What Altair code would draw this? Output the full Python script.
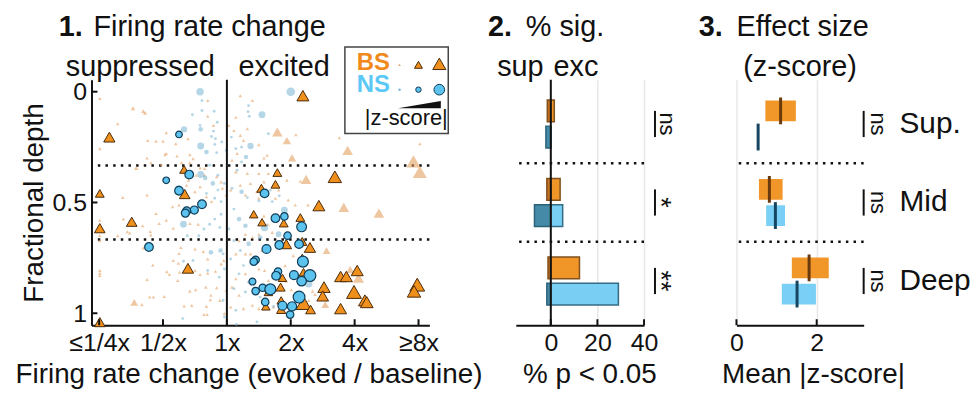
import altair as alt
import pandas as pd

FONT = "Liberation Sans"

# ---------------- Panel 1 data: (log2 evoked/baseline, fractional depth, |z-score|) ----------------
bs_nonsig = [
    (-1.99, 0.030, 1), (-1.47, 0.075, 1.3), (-1.31, 0.088, 1.2), (-1.28, 0.096, 1.2), (-1.71, 0.145, 1),
    (-1.99, 0.257, 1), (-1.24, 0.220, 1), (-1.11, 0.223, 1), (-1.00, 0.223, 1), (-0.95, 0.185, 1),
    (-0.61, 0.212, 1), (-0.80, 0.235, 1), (-0.97, 0.284, 1), (-0.95, 0.279, 1), (-0.78, 0.290, 1),
    (-0.58, 0.284, 1), (-0.53, 0.302, 1), (-1.25, 0.299, 1), (-1.19, 0.321, 1), (-1.03, 0.329, 1),
    (-1.42, 0.344, 1.3), (-0.71, 0.320, 1), (-0.58, 0.320, 1), (-0.42, 0.344, 1), (-0.48, 0.377, 1),
    (-0.35, 0.347, 1), (-0.30, 0.040, 1), (-0.30, 0.111, 1), (-0.21, 0.152, 1), (-0.60, 0.399, 1),
    (-0.63, 0.422, 1), (-0.42, 0.429, 1), (-0.50, 0.452, 1), (-1.25, 0.466, 1), (-1.63, 0.477, 1),
    (-0.32, 0.474, 1), (-0.24, 0.496, 1), (-0.35, 0.377, 1), (-0.16, 0.384, 1), (-0.09, 0.407, 1),
    (-0.07, 0.436, 1), (-0.01, 0.466, 1),
    (0.21, 0.018, 1), (0.40, 0.040, 1), (0.14, 0.115, 1), (0.03, 0.152, 1), (0.11, 0.175, 1),
    (0.21, 0.197, 1), (0.32, 0.167, 1), (0.26, 0.220, 1), (0.16, 0.279, 1), (0.08, 0.309, 1),
    (0.50, 0.239, 1), (0.63, 0.287, 1), (0.58, 0.299, 1), (1.08, 0.194, 1), (1.76, 0.208, 1),
    (3.02, 0.235, 1), (0.14, 0.362, 1), (0.32, 0.369, 1), (0.50, 0.369, 1), (0.65, 0.369, 1),
    (0.94, 0.399, 1), (1.15, 0.404, 1), (0.21, 0.422, 1), (0.37, 0.414, 1), (0.47, 0.452, 1),
    (0.58, 0.407, 1), (0.81, 0.444, 1), (0.06, 0.444, 1), (0.29, 0.466, 1), (0.50, 0.481, 1),
    (0.76, 0.481, 1), (0.96, 0.489, 1),
    (-0.85, 0.519, 1), (-0.75, 0.511, 1), (-1.11, 0.550, 1), (-0.95, 0.580, 1), (-1.06, 0.595, 1),
    (-1.32, 0.605, 1), (-1.62, 0.575, 1), (-1.99, 0.580, 1), (-1.56, 0.632, 1), (-1.52, 0.638, 1),
    (-1.20, 0.631, 1), (-1.19, 0.647, 1), (-0.84, 0.616, 1), (-0.58, 0.595, 1), (-0.45, 0.598, 1),
    (-1.99, 0.649, 1), (-1.71, 0.650, 1), (-1.99, 0.673, 1), (-1.31, 0.705, 1), (-0.72, 0.703, 1),
    (-0.75, 0.730, 1), (-0.50, 0.710, 1), (-0.37, 0.721, 1), (-0.84, 0.762, 1), (-0.76, 0.774, 1),
    (-1.16, 0.782, 1), (-0.94, 0.812, 1), (-0.90, 0.825, 1), (-0.74, 0.815, 1), (-0.68, 0.812, 1),
    (-0.50, 0.807, 1), (-0.42, 0.825, 1), (-0.30, 0.819, 1), (-0.18, 0.810, 1), (-1.99, 0.807, 1),
    (-1.99, 0.819, 1), (-1.99, 0.830, 1), (-1.25, 0.848, 1), (-0.77, 0.852, 1), (-0.58, 0.900, 1),
    (-0.49, 0.894, 1), (-0.33, 0.882, 1), (-0.16, 0.885, 1), (-1.21, 0.927, 1), (-1.15, 0.927, 1),
    (-0.98, 0.924, 1), (-1.33, 0.961, 1), (-0.67, 0.967, 1), (-0.55, 0.965, 1), (-0.32, 0.969, 1),
    (-0.26, 0.939, 1), (-0.11, 0.942, 1), (-0.36, 1.006, 1), (-0.31, 1.006, 1), (-0.04, 1.001, 1),
    (-0.25, 0.919, 1), (-0.01, 0.897, 1), (-0.30, 0.755, 1), (-0.09, 0.777, 1), (-0.05, 0.762, 1),
    (1.07, 0.511, 1), (1.27, 0.511, 1), (0.58, 0.561, 1), (0.64, 0.598, 1), (0.71, 0.635, 1),
    (0.50, 0.643, 1), (0.40, 0.658, 1), (0.29, 0.643, 1), (0.19, 0.673, 1), (0.14, 0.732, 1),
    (0.29, 0.732, 1), (0.37, 0.732, 1), (0.55, 0.717, 1), (0.65, 0.703, 1), (1.04, 0.740, 1),
    (0.91, 0.785, 1), (0.59, 0.807, 1), (0.50, 0.800, 1), (0.29, 0.822, 1), (0.14, 0.844, 1),
    (0.65, 0.852, 1), (0.93, 0.855, 1), (1.01, 0.894, 1), (1.34, 0.900, 1), (1.38, 0.915, 1),
    (1.28, 0.942, 1), (0.55, 0.942, 1), (0.40, 0.964, 1), (0.26, 0.979, 1), (0.06, 0.972, 1),
    (1.07, 0.964, 1), (0.50, 0.979, 1), (0.19, 0.919, 1), (0.08, 0.882, 1), (0.73, 0.972, 1),
    (2.92, 0.314, 4.0), (3.02, 0.362, 4.0), (1.89, 0.265, 3.0), (1.24, 0.396, 3.0), (0.79, 0.182, 3.0),
    (1.02, 0.299, 2.4), (1.83, 0.522, 3.0), (2.38, 0.548, 3.0), (1.56, 0.717, 2.2), (2.06, 0.840, 3.2),
    (1.93, 0.803, 2.4), (1.54, 0.961, 2.2), (0.94, 0.221, 2.4), (-1.45, 0.951, 2.2),
]

ns_nonsig = [
    (-0.42, 0.000, 2.6), (-0.39, 0.040, 1), (-0.39, 0.085, 1), (-0.54, 0.104, 1), (-0.20, 0.088, 1),
    (-0.15, 0.138, 1), (-0.42, 0.152, 1), (-0.41, 0.170, 1.6), (-0.21, 0.178, 1), (-0.24, 0.202, 1),
    (-0.18, 0.212, 1), (-0.67, 0.170, 2.2), (-0.41, 0.245, 2.4), (-0.19, 0.238, 1), (-0.32, 0.272, 1.6),
    (-0.16, 0.275, 1), (-0.08, 0.227, 1), (-0.01, 0.265, 1), (-0.41, 0.374, 2.4), (-0.34, 0.389, 1.6),
    (-0.27, 0.332, 1), (-0.14, 0.377, 1), (-0.22, 0.414, 1.6), (-0.14, 0.444, 1), (-0.04, 0.414, 1),
    (-0.32, 0.459, 1), (-0.19, 0.481, 1), (-0.09, 0.496, 1), (-0.76, 0.436, 2.2),
    (0.34, 0.063, 1), (0.33, 0.090, 1), (0.35, 0.111, 1), (0.07, 0.205, 1), (0.23, 0.250, 1),
    (0.37, 0.245, 2.2), (0.14, 0.257, 1), (0.30, 0.295, 1.6), (0.23, 0.317, 1), (0.16, 0.354, 1),
    (0.65, 0.190, 1), (0.08, 0.436, 1), (0.23, 0.452, 1.6), (0.32, 0.478, 1), (0.68, 0.444, 1),
    (0.82, 0.470, 1), (0.50, 0.493, 1), (0.71, 0.496, 1), (0.55, 0.104, 2.4), (1.00, 0.000, 3.0),
    (-0.68, 0.598, 2.4), (-0.62, 0.650, 1), (-0.44, 0.650, 1), (-0.53, 0.762, 1), (-0.68, 0.765, 1),
    (-0.30, 0.807, 1), (-0.25, 0.725, 1.6), (-0.10, 0.717, 1.6), (-0.06, 0.732, 1), (-0.04, 0.800, 1),
    (-0.12, 0.837, 1), (-0.06, 0.942, 1), (-0.04, 1.017, 1), (-0.69, 1.024, 1), (-0.27, 0.598, 1),
    (-0.19, 0.575, 1), (-0.09, 0.553, 1), (-0.11, 0.613, 1), (-0.36, 0.620, 1),
    (0.11, 0.530, 1), (0.19, 0.575, 1.6), (0.03, 0.620, 1), (0.29, 0.605, 1.6), (0.11, 0.673, 1),
    (0.34, 0.687, 1.6), (0.52, 0.658, 1.6), (0.21, 0.717, 1), (0.06, 0.755, 1), (0.26, 0.785, 1),
    (0.19, 0.822, 1), (0.34, 0.860, 1), (0.11, 0.889, 1), (0.29, 0.904, 1), (0.52, 0.927, 1),
    (0.14, 0.987, 1), (0.47, 1.039, 1), (0.15, 1.051, 1), (0.73, 0.969, 1), (0.90, 0.535, 2.4),
    (0.81, 0.643, 2.0), (0.59, 0.613, 2.6), (1.28, 0.867, 2.6),
]

bs_sig = [
    (-1.84, 0.205, 3.2), (-1.99, 0.459, 2.5), (-0.67, 0.351, 2.5), (-0.66, 0.462, 3.0), (-1.49, 0.587, 3.0),
    (-1.99, 0.616, 3.0), (-0.61, 0.797, 3.2), (-1.99, 1.040, 3.0), (1.19, 0.018, 3.4), (1.69, 0.384, 3.8),
    (0.79, 0.365, 2.5), (0.76, 0.418, 2.5), (0.54, 0.436, 2.6), (1.44, 0.514, 3.4), (1.15, 0.568, 2.5),
    (0.89, 0.593, 2.5), (0.55, 0.589, 2.4), (0.42, 0.553, 2.4), (0.93, 0.688, 3.0), (1.18, 0.676, 2.6),
    (1.30, 0.703, 3.2), (1.18, 0.750, 2.4), (1.20, 0.815, 2.5), (0.87, 0.840, 2.4), (0.84, 0.882, 2.6),
    (0.65, 0.904, 2.4), (1.52, 0.882, 3.5), (1.50, 0.922, 3.3), (1.78, 0.834, 3.4), (1.87, 0.834, 3.4),
    (2.04, 0.807, 3.4), (1.99, 0.904, 4.2), (2.16, 0.942, 3.6), (2.19, 0.950, 3.6), (2.98, 0.871, 4.2),
    (2.93, 0.901, 3.8), (1.78, 0.979, 3.4), (1.20, 0.954, 4.2), (1.31, 0.983, 2.8), (0.85, 0.983, 2.6),
    (0.85, 0.942, 2.4), (0.61, 0.969, 2.4),
]

ns_sig = [
    (-0.75, 0.193, 2.3), (-0.59, 0.374, 3.0), (-0.95, 0.400, 2.3), (-0.75, 0.447, 3.0), (-0.39, 0.508, 3.0),
    (-0.51, 0.534, 2.8), (-0.63, 0.538, 2.8), (-0.65, 0.548, 2.8), (-1.22, 0.701, 3.0), (0.59, 0.459, 3.0),
    (0.76, 0.571, 3.0), (0.90, 0.563, 2.6), (1.17, 0.610, 3.4), (0.95, 0.650, 2.6), (0.82, 0.692, 3.0),
    (0.62, 0.710, 3.1), (1.13, 0.688, 3.0), (1.19, 0.767, 3.8), (0.45, 0.759, 2.6), (0.42, 0.767, 2.6),
    (0.80, 0.812, 2.6), (0.77, 0.831, 3.0), (1.05, 0.828, 3.1), (1.30, 0.830, 4.1), (1.17, 0.855, 3.3),
    (0.40, 0.857, 2.4), (0.56, 0.885, 2.6), (0.68, 0.892, 3.8), (0.45, 0.900, 2.6), (1.13, 0.927, 4.1),
    (1.02, 0.969, 3.2), (0.87, 0.966, 3.1), (0.99, 1.006, 2.6), (0.60, 0.949, 2.6),
]

x_ticks = [-2, -1, 0, 1, 2, 3]
x_tick_labels = ["≤1/4x", "1/2x", "1x", "2x", "4x", "≥8x"]
depth_ticks = [0, 0.5, 1]
layer_bounds = [1 / 3, 2 / 3]

# ---------------- Panel 2 / 3 data ----------------
groups = ["Sup.", "Mid", "Deep"]
bs_sup_pct = [-1.5, -1.7, -1.2]
bs_exc_pct = [1.5, 4.0, 12.3]
ns_sup_pct = [-2.1, -7.0, -1.7]
ns_exc_pct = [0.0, 5.1, 29.0]
sig_pct = ["ns", "*", "**"]

bs_z_lo = [0.72, 0.56, 1.38]
bs_z_hi = [1.48, 1.15, 2.30]
bs_z_mean = [1.10, 0.82, 1.81]
ns_z_lo = [0.54, 0.74, 1.13]
ns_z_hi = [0.54, 1.21, 1.98]
ns_z_mean = [0.54, 0.97, 1.51]
sig_z = ["ns", "ns", "ns"]

pct_ticks = [0, 20, 40]
z_ticks = [0, 2]

# ---------------- layout ----------------
W1, W2, W3, H = 340, 129, 128, 247
BLACK = "#111111"
BS_C, NS_C = "#f0901c", "#5cc2ee"
TITLE_Y = 58
LAB_PAD = 25

def txt(s, x, y, size=28, weight="normal", align="left", color=BLACK, angle=0, baseline="alphabetic"):
    return alt.Chart(pd.DataFrame({"t": [s]})).mark_text(
        font=FONT, fontSize=size, fontWeight=weight, align=align, baseline=baseline,
        color=color, angle=angle
    ).encode(text="t:N", x=alt.value(x), y=alt.value(y))

# ---- Panel 1 ----
sx1 = alt.Scale(domain=[-2.12, 3.17], nice=False, zero=False)
sy1 = alt.Scale(domain=[-0.054, 1.054], reverse=True, nice=False, zero=False)
lab_arr = "[" + ",".join("'" + l + "'" for l in x_tick_labels) + "]"
ax_x1 = alt.Axis(values=x_ticks, labelExpr=lab_arr + "[datum.value + 2]",
                 title="Firing rate change (evoked / baseline)", titleX=158, titleY=TITLE_Y,
                 titleBaseline="alphabetic", labelBaseline="alphabetic", labelPadding=LAB_PAD,
                 labelFlush=False)
ax_y1 = alt.Axis(values=depth_ticks, format="~g", title="Fractional depth",
                 labelPadding=5, titlePadding=4, labelFlush=False)
X1 = alt.X("lx:Q", scale=sx1, axis=ax_x1)
Y1 = alt.Y("depth:Q", scale=sy1, axis=ax_y1)

def pts(lst):
    return pd.DataFrame(lst, columns=["lx", "depth", "z"])

tri_size = alt.Scale(type="pow", exponent=2, domain=[0, 4.5], range=[0, 256])
cir_size = alt.Scale(type="pow", exponent=2, domain=[0, 4.5], range=[0, 170])

p1_layers = [
    alt.Chart(pd.DataFrame({"depth": layer_bounds})).mark_rule(
        color=BLACK, strokeWidth=2.5, strokeDash=[2.5, 5.2]).encode(y=Y1),
    alt.Chart(pts(bs_nonsig)).mark_point(shape="triangle-up", filled=True, color="#e3a262", opacity=0.6)
        .encode(x=X1, y=Y1, size=alt.Size("z:Q", scale=tri_size, legend=None)),
    alt.Chart(pts(ns_nonsig)).mark_point(shape="circle", filled=True, color="#78b4d3", opacity=0.55)
        .encode(x=X1, y=Y1, size=alt.Size("z:Q", scale=cir_size, legend=None)),
    alt.Chart(pts(bs_sig)).mark_point(shape="triangle-up", filled=True, fill=BS_C, stroke="#4a2a0a",
                                      strokeWidth=1, opacity=1)
        .encode(x=X1, y=Y1, size=alt.Size("z:Q", scale=tri_size, legend=None)),
    alt.Chart(pts(ns_sig)).mark_point(shape="circle", filled=True, fill=NS_C, stroke="#0f3b55",
                                      strokeWidth=1.2, opacity=1)
        .encode(x=X1, y=Y1, size=alt.Size("z:Q", scale=cir_size, legend=None)),
    alt.Chart(pd.DataFrame({"lx": [0]})).mark_rule(color=BLACK, strokeWidth=2).encode(x=X1),
    alt.Chart(pd.DataFrame({"lx": x_ticks})).mark_rule(color=BLACK, strokeWidth=2)
        .encode(x=X1, y=alt.value(H - 6), y2=alt.value(H)),
    alt.Chart(pd.DataFrame({"depth": depth_ticks})).mark_rule(color=BLACK, strokeWidth=2)
        .encode(y=Y1, x=alt.value(0), x2=alt.value(6)),
    # legend box
    alt.Chart(pd.DataFrame({"k": [0]})).mark_rect(fill="white", stroke="#444444", strokeWidth=1.5)
        .encode(x=alt.value(255), x2=alt.value(359), y=alt.value(-33), y2=alt.value(54)),
    txt("BS", 267, -10, size=24, weight="bold", color="#f08a1c"),
    txt("NS", 267, 12, size=24, weight="bold", color="#5bc8f5"),
    txt("|z-score|", 275, 46, size=22),
    txt("1.", -33, -44, size=29, weight="bold"),
    txt("Firing rate change", 2, -44, size=29),
    txt("suppressed", 124, -4, size=29, align="right"),
    txt("excited", 148, -4, size=29),
]
leg_syms = [
    (310, -15, 6, "triangle-up", "#e3a262", None),
    (329, -15, 64, "triangle-up", BS_C, "#4a2a0a"),
    (350, -16, 175, "triangle-up", BS_C, "#4a2a0a"),
    (310, 10, 6, "circle", "#78b4d3", None),
    (329, 10, 30, "circle", NS_C, "#0f3b55"),
    (350, 10, 115, "circle", NS_C, "#0f3b55"),
]
for (lx, ly, sz, shp, fc, sc) in leg_syms:
    kw = dict(shape=shp, filled=True, fill=fc, opacity=1)
    if sc:
        kw.update(stroke=sc, strokeWidth=1)
    p1_layers.append(alt.Chart(pd.DataFrame({"k": [0]})).mark_point(**kw)
                     .encode(x=alt.value(lx), y=alt.value(ly), size=alt.value(sz)))
p1_layers.append(alt.Chart(pd.DataFrame({"k": [0]})).mark_point(
    shape="M-1,0.17L1,-0.17L1,0.17Z", filled=True, color=BLACK, opacity=1)
    .encode(x=alt.value(330), y=alt.value(25), size=alt.value(1849)))

p1 = alt.layer(*p1_layers).resolve_scale(size="independent").properties(width=W1, height=H)

# ---- shared row layout for panels 2 & 3 ----
bs_rows = [3 * i for i in range(len(groups))]
ns_rows = [3 * i + 1 for i in range(len(groups))]
sy_row = alt.Scale(domain=[-1, 8], reverse=True, nice=False, zero=False)
YR = alt.Y("row:Q", scale=sy_row, axis=None)
mid_rows = [r + 0.5 for r in bs_rows]

def sig_text(labels, x, size):
    return alt.Chart(pd.DataFrame({"row": mid_rows, "s": labels})).mark_text(
        font=FONT, fontSize=size, angle=90, align="center", baseline="alphabetic", color=BLACK
    ).encode(x=alt.value(x), y=YR, text="s:N")

# ---- Panel 2 ----
sx2 = alt.Scale(domain=[-15, 40], nice=False, zero=False)
ax_x2 = alt.Axis(values=pct_ticks, grid=True, gridColor="#e8e8e8", gridWidth=1.5, title="% p < 0.05",
                 titleX=74, titleY=TITLE_Y, titleBaseline="alphabetic", labelBaseline="alphabetic",
                 labelPadding=LAB_PAD, labelFlush=False)
X2 = alt.X("pct:Q", scale=sx2, axis=ax_x2)

def bars2(rows, vals, fill, stroke):
    df = pd.DataFrame({"row": rows, "pct": vals, "pct2": [0] * len(vals)})
    return alt.Chart(df).mark_bar(orient="horizontal", size=22, fill=fill, stroke=stroke,
                                  strokeWidth=1.5, opacity=0.95).encode(x=X2, x2="pct2:Q", y=YR)

ns_labels2 = [s if s == "ns" else "" for s in sig_pct]
star_labels2 = [s if s != "ns" else "" for s in sig_pct]

p2_layers = [
    alt.Chart(pd.DataFrame({"row": [2, 5]})).mark_rule(color=BLACK, strokeWidth=2.5,
                                                       strokeDash=[2.5, 5.2]).encode(y=YR),
    bars2(bs_rows, bs_sup_pct, "#c46c18", "#7a4712"),
    bars2(bs_rows, bs_exc_pct, BS_C, "#7a4712"),
    bars2(ns_rows, ns_sup_pct, "#3c84a3", "#1f5a73"),
    bars2(ns_rows, ns_exc_pct, "#72ccf4", "#2a6580"),
    alt.Chart(pd.DataFrame({"pct": [0]})).mark_rule(color=BLACK, strokeWidth=2).encode(x=X2),
    alt.Chart(pd.DataFrame({"pct": pct_ticks})).mark_rule(color=BLACK, strokeWidth=2)
        .encode(x=X2, y=alt.value(H - 6), y2=alt.value(H)),
    alt.Chart(pd.DataFrame({"row": bs_rows, "row2": ns_rows})).mark_rule(color=BLACK, strokeWidth=2)
        .encode(x=alt.value(W2 + 11), y=YR, y2="row2:Q"),
    sig_text(ns_labels2, W2 + 16, 22),
    sig_text(star_labels2, W2 + 8, 27),
    txt("2.", -28, -44, size=29, weight="bold"),
    txt("% sig.", 10, -44, size=29),
    txt("sup", 28, -4, size=29, align="right"),
    txt("exc", 38, -4, size=29),
]
p2 = alt.layer(*p2_layers).properties(width=W2, height=H)

# ---- Panel 3 ----
sx3 = alt.Scale(domain=[0, 3.17], nice=False, zero=False)
ax_x3 = alt.Axis(values=z_ticks, grid=True, gridColor="#e8e8e8", gridWidth=1.5, title="Mean |z-score|",
                 titleX=77, titleY=TITLE_Y, titleBaseline="alphabetic", labelBaseline="alphabetic",
                 labelPadding=LAB_PAD, labelFlush=False)
X3 = alt.X("zv:Q", scale=sx3, axis=ax_x3)

def box3(rows, lo, hi, fill):
    df = pd.DataFrame({"row": rows, "zv": lo, "zv2": hi})
    return alt.Chart(df).mark_bar(orient="horizontal", size=21, fill=fill, opacity=0.95).encode(
        x=X3, x2="zv2:Q", y=YR)

def med3(rows, vals, color):
    df = pd.DataFrame({"row": rows, "zv": vals})
    return alt.Chart(df).mark_tick(orient="vertical", size=27, thickness=3, color=color, opacity=1).encode(
        x=X3, y=YR)

p3_layers = [
    alt.Chart(pd.DataFrame({"row": [2, 5]})).mark_rule(color=BLACK, strokeWidth=2.5,
                                                       strokeDash=[2.5, 5.2]).encode(y=YR),
    box3(bs_rows, bs_z_lo, bs_z_hi, BS_C),
    box3(ns_rows, ns_z_lo, ns_z_hi, "#72ccf4"),
    med3(bs_rows, bs_z_mean, "#6a3a0c"),
    med3(ns_rows, ns_z_mean, "#154560"),
    alt.Chart(pd.DataFrame({"zv": z_ticks})).mark_rule(color=BLACK, strokeWidth=2)
        .encode(x=X3, y=alt.value(H - 6), y2=alt.value(H)),
    alt.Chart(pd.DataFrame({"row": bs_rows, "row2": ns_rows})).mark_rule(color=BLACK, strokeWidth=2)
        .encode(x=alt.value(W3), y=YR, y2="row2:Q"),
    sig_text(sig_z, W3 + 7, 22),
    alt.Chart(pd.DataFrame({"row": mid_rows, "g": groups})).mark_text(
        font=FONT, fontSize=30, align="left", baseline="middle", color=BLACK)
        .encode(x=alt.value(164), y=YR, text="g:N"),
    txt("3.", -38, -44, size=29, weight="bold"),
    txt("Effect size", 0, -44, size=29),
    txt("(z-score)", 64, -4, size=29, align="center"),
]
p3 = alt.layer(*p3_layers).properties(width=W3, height=H)

right = alt.hconcat(p2, p3, spacing=93, bounds="flush")
chart = alt.hconcat(p1, right, spacing=87, bounds="flush").properties(
    padding={"left": 6, "top": 4, "right": 0, "bottom": 0}
).configure_view(stroke=None).configure_axis(
    domainColor=BLACK, domainWidth=2, ticks=False, tickSize=0, labelColor=BLACK, titleColor=BLACK,
    labelFont=FONT, titleFont=FONT, labelFontSize=25, titleFontSize=28, titleFontWeight="normal",
    grid=False
)

chart.save("out.html", embed_options={"renderer": "svg", "actions": False})
